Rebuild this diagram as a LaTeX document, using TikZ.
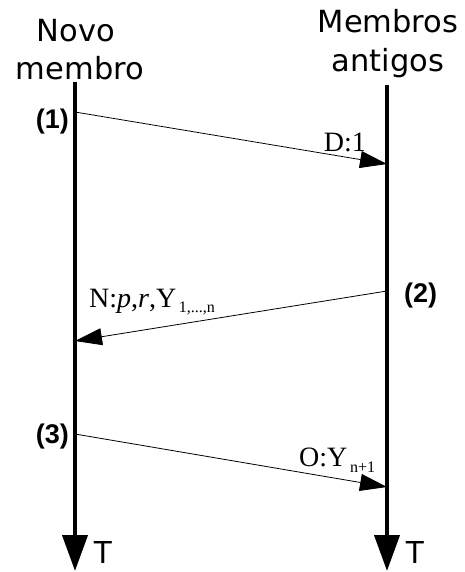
\documentclass[tikz,border=0pt]{standalone}
\usepackage{fontspec}
\setmainfont{Liberation Serif}
\newfontfamily\headfont{DejaVu Sans}
\newfontfamily\arialfont{Liberation Sans}
\usetikzlibrary{arrows.meta}

\begin{document}
\begin{tikzpicture}[x=1pt,y=-1pt,
  lifeline/.style={line width=4pt,-{Triangle[length=36pt,width=25pt]}},
  msg/.style={line width=0.8pt,-{Triangle[length=27pt,width=17pt]}},
  actor/.style={align=center,font=\fontsize{30.5}{38}\selectfont\headfont,inner sep=0pt},
  stepnum/.style={font=\fontsize{27}{27}\selectfont\arialfont\bfseries,inner sep=0pt},
  msglabel/.style={font=\fontsize{28}{28}\selectfont,inner sep=0pt},
  timelabel/.style={font=\fontsize{32}{32}\selectfont\arialfont,inner sep=0pt}
]
\useasboundingbox (0,0) rectangle (465,572);
% lifelines
\coordinate (novoTop) at (75,82);
\coordinate (novoEnd) at (75,571);
\coordinate (antTop) at (387,85);
\coordinate (antEnd) at (387,571);
\node[actor,anchor=base] (novo) at (76,42) {Novo};
\node[actor,anchor=base] (membro) at (80,80) {membro};
\node[actor,anchor=base] (membros) at (388,33) {Membros};
\node[actor,anchor=base] (antigos) at (388,72) {antigos};
\draw[lifeline] (novoTop) -- (novoEnd);
\draw[lifeline] (antTop) -- (antEnd);
\node[timelabel,anchor=base west] (tnovo) at (93,563) {T};
\node[timelabel,anchor=base west] (tant) at (405,563) {T};
% messages
\coordinate (m1a) at (75,112);
\coordinate (m1b) at (387,164);
\coordinate (m2a) at (387,291);
\coordinate (m2b) at (75,341);
\coordinate (m3a) at (75,434);
\coordinate (m3b) at (387,487);
\draw[msg] (m1a) -- (m1b);
\draw[msg] (m2a) -- (m2b);
\draw[msg] (m3a) -- (m3b);
\node[stepnum,anchor=base east] (s1) at (69,129) {(1)};
\node[stepnum,anchor=base west] (s2) at (404,302) {(2)};
\node[stepnum,anchor=base east] (s3) at (69,443) {(3)};
\node[msglabel,anchor=base east] (d1) at (366,152) {D:1};
\node[msglabel,anchor=base west] (np) at (89,307) {N:\textit{p},\textit{r},Y\raisebox{-5pt}{\fontsize{16}{16}\selectfont\,1,...,n}};
\node[msglabel,anchor=base west] (oy) at (299,466) {O:Y\raisebox{-6pt}{\fontsize{16}{16}\selectfont\,n+1}};
\end{tikzpicture}
\end{document}
